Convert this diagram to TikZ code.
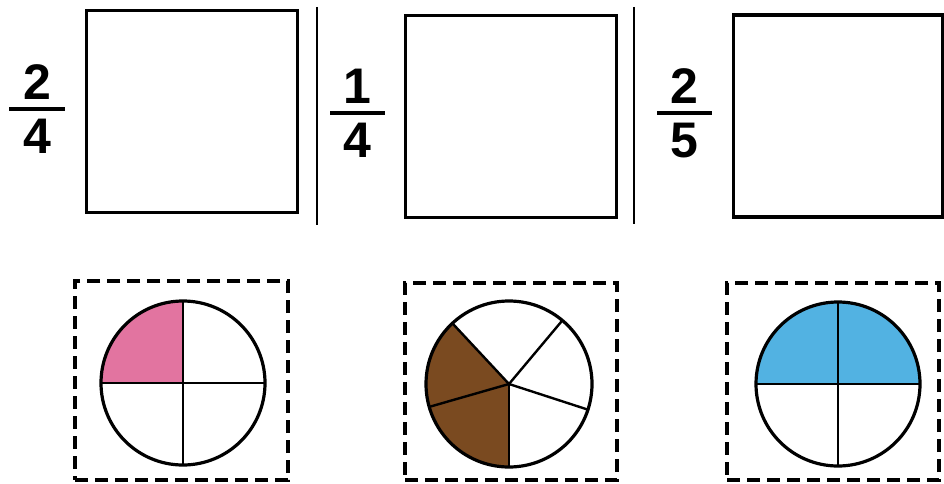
\documentclass[tikz,border=0pt]{standalone}
\usepackage{fontspec}
\setmainfont{Liberation Sans}
\definecolor{piepink}{RGB}{226,116,160}
\definecolor{piebrown}{RGB}{122,74,32}
\definecolor{pieblue}{RGB}{82,178,226}
\tikzset{
  answerbox/.style={draw,line width=3.8pt,minimum width=211pt,minimum height=202pt,inner sep=0},
  cutbox/.style={draw,line width=3.6pt,dash pattern=on 13pt off 7pt,minimum width=212pt,minimum height=197pt,inner sep=0},
  digit/.style={inner sep=0,font=\fontsize{50}{50}\selectfont\bfseries},
  fracbar/.style={line width=4pt},
  divider/.style={line width=2.5pt},
  rim/.style={line width=3.2pt},
  spoke/.style={line width=2.4pt}
}
\begin{document}
\begin{tikzpicture}[x=1pt,y=1pt]
\useasboundingbox (0,0) rectangle (944,483);
% top row: fractions and empty boxes
\node[digit,anchor=south] (n1) at (37,383) {2};
\node[digit,anchor=north] (d1) at (37,364) {4};
\draw[fracbar] (9,374) -- (65,374);
\node[answerbox] (box1) at (192,371.5) {};
\draw[divider] (317,476) -- (317,258);
\node[digit,anchor=south] (n2) at (357,379) {1};
\node[digit,anchor=north] (d2) at (357,360) {4};
\draw[fracbar] (330,370) -- (385,370);
\node[answerbox] (box2) at (511,366.5) {};
\draw[divider] (634,476) -- (634,259);
\node[digit,anchor=south] (n3) at (684,379) {2};
\node[digit,anchor=north] (d3) at (684,360) {5};
\draw[fracbar] (657,370) -- (712,370);
\node[answerbox,minimum width=209pt] (box3) at (838,367) {};
% bottom row: pies
\node[cutbox,minimum width=213pt,minimum height=199pt] (cut1) at (181.5,102.5) {};
\node[cutbox] (cut2) at (511,101.5) {};
\node[cutbox] (cut3) at (833,101.5) {};
\coordinate (c1) at (183,100);
\fill[piepink] (c1) -- ++(180:82) arc (180:90:82) -- cycle;
\draw[spoke] (c1) ++(-82,0) -- ++(164,0);
\draw[spoke] (c1) ++(0,-82) -- ++(0,164);
\draw[rim] (c1) circle (82);
\coordinate (c2) at (509,99);
\fill[piebrown] (c2) -- ++(133:83) arc (133:270:83) -- cycle;
\foreach \a in {50,133,196,270,342}
  \draw[spoke] (c2) -- ++(\a:83);
\draw[rim] (c2) circle (83);
\coordinate (c3) at (838,99);
\fill[pieblue] (c3) -- ++(0:82) arc (0:180:82) -- cycle;
\draw[spoke] (c3) ++(-82,0) -- ++(164,0);
\draw[spoke] (c3) ++(0,-82) -- ++(0,164);
\draw[rim] (c3) circle (82);
\end{tikzpicture}
\end{document}
